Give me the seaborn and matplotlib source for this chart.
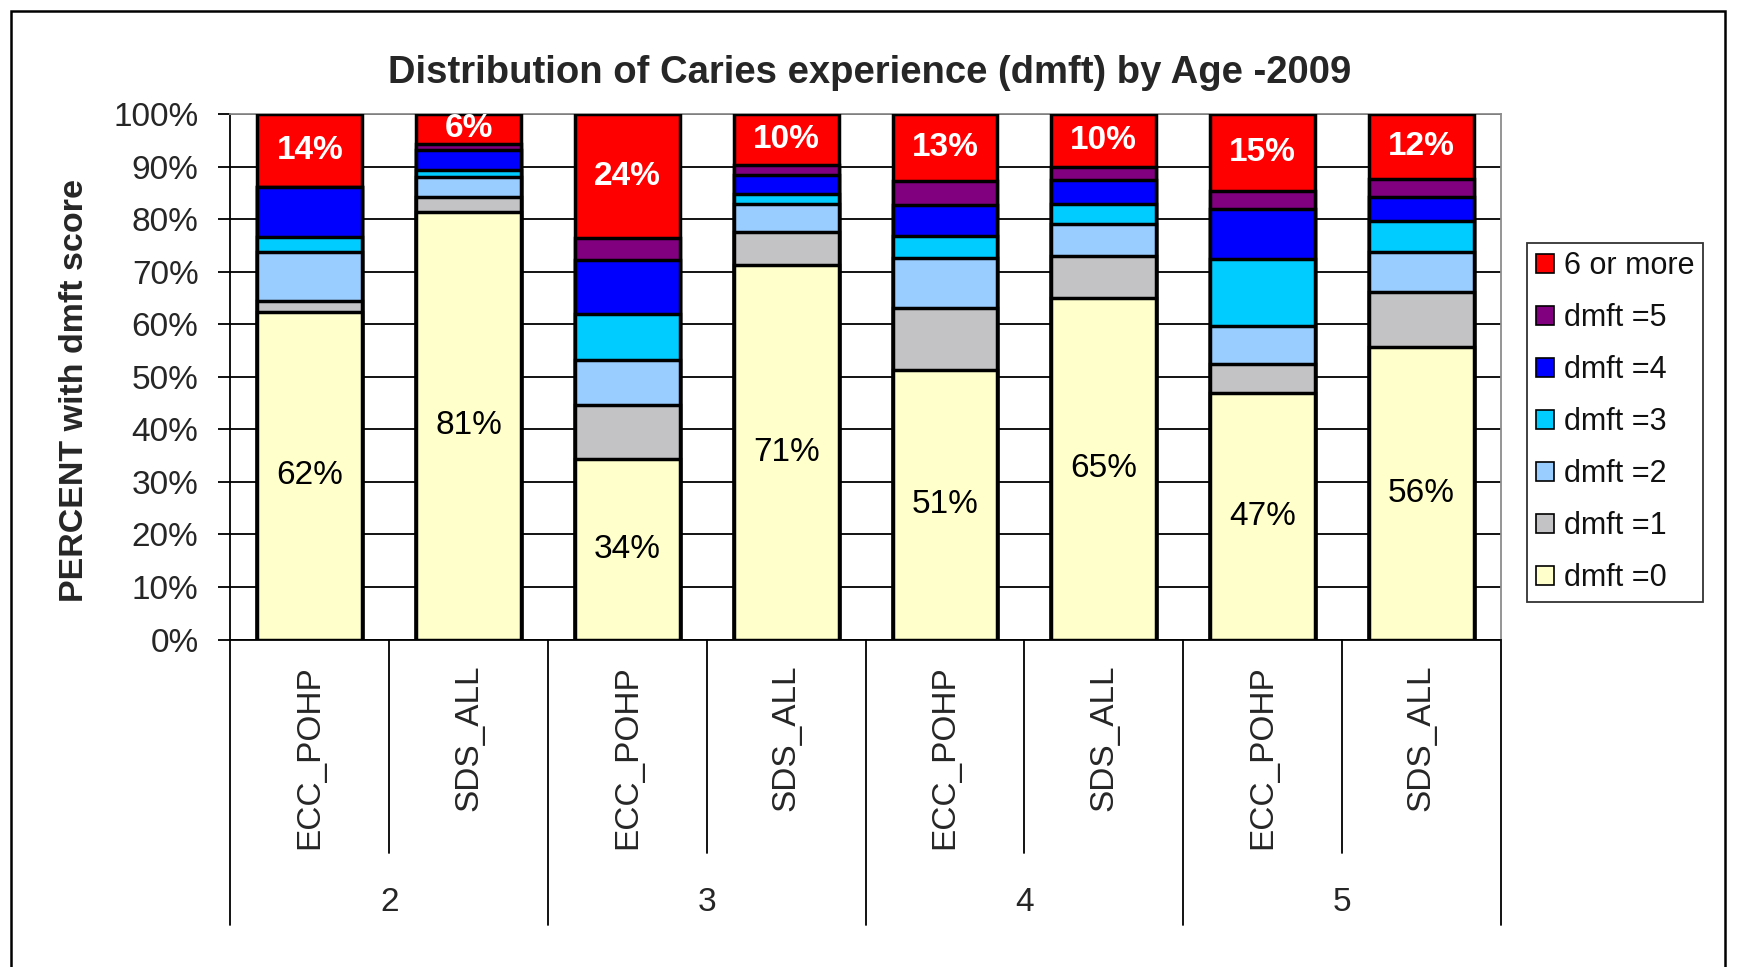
import matplotlib
matplotlib.use("Agg")
import matplotlib.pyplot as plt
import pandas as pd
import seaborn as sns
from matplotlib.patches import Patch, Rectangle

# --- data -------------------------------------------------------------------
ages = ["2", "2", "3", "3", "4", "4", "5", "5"]
groups = ["ECC_POHP", "SDS_ALL"] * 4

dmft0 = [62.3, 81.4, 34.4, 71.3, 51.4, 65.1, 46.9, 55.7]
dmft1 = [2.1, 2.9, 10.3, 6.3, 11.7, 8.0, 5.5, 10.5]
dmft2 = [9.4, 3.7, 8.5, 5.3, 9.5, 6.0, 7.2, 7.6]
dmft3 = [2.8, 1.4, 8.7, 2.0, 4.2, 3.9, 12.8, 5.9]
dmft4 = [9.5, 3.7, 10.3, 3.6, 5.9, 4.5, 9.5, 4.5]
dmft5 = [0.0, 1.3, 4.2, 1.9, 4.5, 2.5, 3.5, 3.5]
dmft6 = [13.9, 5.6, 23.6, 9.6, 12.8, 10.0, 14.6, 12.3]

series_names = ["dmft =0", "dmft =1", "dmft =2", "dmft =3", "dmft =4", "dmft =5", "6 or more"]
series_vals = [dmft0, dmft1, dmft2, dmft3, dmft4, dmft5, dmft6]
series_colors = ["#FFFFCC", "#C3C3C6", "#99CCFF", "#00CCFF", "#0000FF", "#800080", "#FF0000"]

df = pd.DataFrame({"age": ages, "group": groups})
df["bar"] = [f"{a}_{g}" for a, g in zip(ages, groups)]
for name, vals in zip(series_names, series_vals):
    df[name] = vals
order = list(df["bar"])

# --- style ------------------------------------------------------------------
sns.set_theme(style="white")
plt.rcParams["font.family"] = ["Liberation Sans", "DejaVu Sans"]

fig = plt.figure(figsize=(17.38, 9.67), dpi=100, facecolor="white")
ax = fig.add_axes([0.1326, 0.3386, 0.8635 - 0.1326, 0.8819 - 0.3386])
ax.set_facecolor("white")

# stacked bars: draw cumulative tops from highest layer down
cum = df[series_names].cumsum(axis=1)
for name, color in reversed(list(zip(series_names, series_colors))):
    sns.barplot(data=cum.assign(bar=df["bar"]), x="bar", y=name, order=order,
                color=color, saturation=1, width=0.66, edgecolor="black",
                linewidth=2.5, ax=ax, zorder=3)

ax.set_ylim(0, 100)
ax.set_xlim(-0.5, len(order) - 0.5)
ax.set_yticks(range(0, 101, 10))
ax.set_yticklabels([f"{v}%" for v in range(0, 101, 10)], fontsize=24)
ax.tick_params(axis="y", direction="out", length=9, width=1.3, color="black", pad=14, left=True)
ax.set_xticks([])
ax.set_xlabel("")
ax.set_ylabel("")
ax.yaxis.grid(True, color="black", linewidth=1.3, zorder=0)
ax.set_axisbelow(True)
for side in ["left", "bottom"]:
    ax.spines[side].set_color("black")
    ax.spines[side].set_linewidth(1.3)
for side in ["top", "right"]:
    ax.spines[side].set_color("#8C8C8C")
    ax.spines[side].set_linewidth(1.3)

# data labels
for i in range(len(order)):
    ax.text(i, dmft0[i] / 2, f"{round(dmft0[i])}%", ha="center", va="center",
            fontsize=24, color="black", zorder=5)
    ax.text(i, 100 - dmft6[i] / 2, f"{round(dmft6[i])}%", ha="center", va="center",
            fontsize=24, fontweight="bold", color="white", zorder=5)

# hierarchical category axis
xtr = ax.get_xaxis_transform()
for i, g in enumerate(groups):
    ax.text(i, -0.048, g, rotation=90, ha="center", va="top", fontsize=24,
            transform=xtr)
for k in range(0, len(order), 2):
    ax.text(k + 0.5, -0.501, ages[k], ha="center", va="center", fontsize=24,
            transform=xtr)
for k in range(0, len(order) + 1, 2):
    ax.plot([k - 0.5, k - 0.5], [0, -0.543], color="black", lw=1.3,
            transform=xtr, clip_on=False)
for k in range(1, len(order), 2):
    ax.plot([k - 0.5, k - 0.5], [0, -0.406], color="black", lw=1.3,
            transform=xtr, clip_on=False)

ax.text(-0.1224, 0.475, "PERCENT with dmft score", rotation=90, ha="center",
        va="center", fontsize=24.5, fontweight="bold", transform=ax.transAxes)

fig.suptitle("Distribution of Caries experience (dmft) by Age -2009", x=0.5005,
             y=0.9245, va="center", fontsize=27.5, fontweight="bold")

handles = [Patch(facecolor=c, edgecolor="black", linewidth=1.2, label=n)
           for n, c in zip(series_names, series_colors)][::-1]
leg = ax.legend(handles=handles, loc="upper left", bbox_to_anchor=(0.8786, 0.749),
                bbox_transform=fig.transFigure, fontsize=22, frameon=True,
                fancybox=False, shadow=False, handlelength=0.6, handleheight=0.6,
                handletextpad=0.33, borderpad=0.28, labelspacing=0.72,
                borderaxespad=0)
leg.get_frame().set_edgecolor("black")
leg.get_frame().set_linewidth(1.3)
for t in leg.get_texts():
    t.set_color("#111111")

# outer chart frame
fig.add_artist(Rectangle((0.0066, -0.01), 0.9859, 0.999, transform=fig.transFigure,
                         fill=False, edgecolor="black", linewidth=1.8))

fig.savefig("out.png", dpi=100)
